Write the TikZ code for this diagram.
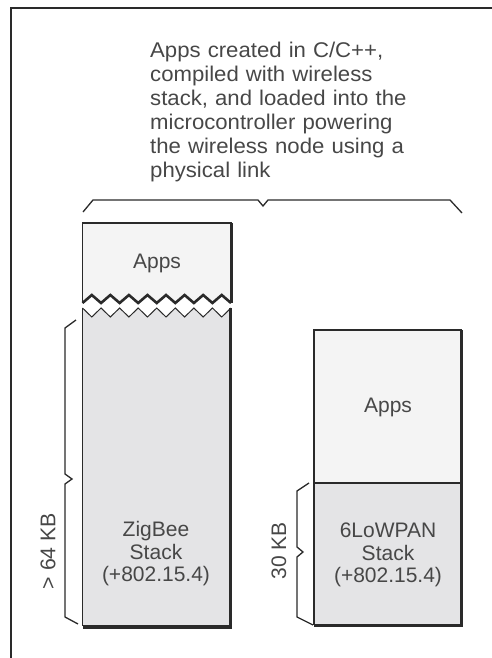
\documentclass[tikz,border=0pt]{standalone}
\usepackage{fontspec}
\setmainfont{Liberation Sans}
\newfontfamily\widesans[FakeStretch=1.04]{Liberation Sans}
\definecolor{lineC}{HTML}{2A2A2A}
\definecolor{textC}{HTML}{474747}
\definecolor{appsF}{HTML}{F4F4F4}
\definecolor{stackF}{HTML}{E4E4E6}
\tikzset{
  frameline/.style={draw=lineC, line width=1.4pt},
  boxline/.style={draw=lineC, line width=1.3pt},
  shadowline/.style={draw=lineC, line width=3.6pt},
  braceline/.style={draw=lineC, line width=1.3pt, line join=miter},
  label/.style={text=textC, inner sep=0pt, font=\fontsize{21}{22.5}\selectfont, align=center},
}
\begin{document}
\begin{tikzpicture}[x=1pt,y=-1pt]
\useasboundingbox (0,0) rectangle (492,658);
% frame (top and left edges)
\draw[frameline] (492,8) -- (11,8) -- (11,658);

% top text
\node[label, anchor=north west, align=left, text width=320pt,
      font=\widesans\fontsize{21.3}{24}\selectfont] (desc) at (150,42)
  {Apps created in C/C++,\\compiled with wireless\\stack, and loaded into the\\microcontroller powering\\the wireless node using a\\physical link};

% top brace
\draw[braceline] (83,212) -- (93,200) -- (258,200) -- (263,206) -- (268,200) -- (450,200) -- (462,213);

% ---- left column ----
% lower (stack) box with zigzag top
\fill[stackF] (82.5,308) \foreach \i in {0,...,7} { -- ({82.5+(\i+0.5)*18.5625},317) -- ({82.5+(\i+1)*18.5625},308) } -- (230,626) -- (82.5,626) -- cycle;
\draw[boxline, line width=1pt] (82.5,308) \foreach \i in {0,...,7} { -- ({82.5+(\i+0.5)*18.5625},317) -- ({82.5+(\i+1)*18.5625},308) };
\draw[boxline] (82.5,308) -- (82.5,626);
\draw[shadowline] (230.5,308) -- (230.5,627) -- (82.5,627);

% apps box with zigzag bottom
\fill[appsF] (82.5,223) -- (231,223) -- (231,303) \foreach \i in {7,...,0} { -- ({82.5+(\i+0.5)*18.5625},295) -- ({82.5+\i*18.5625},303) } -- cycle;
\draw[boxline] (231,303) -- (231,223) -- (82.5,223) -- (82.5,303);
\draw[draw=lineC, line width=2.6pt, line join=miter] (82.5,303) \foreach \i in {0,...,7} { -- ({82.5+(\i+0.5)*18.5625},295) -- ({82.5+(\i+1)*18.5625},303) };
\draw[draw=lineC, line width=3pt] (231,223) -- (231,303);

\node[label] (appsL) at (157,263) {Apps};
\node[label] (zigbee) at (156,554) {ZigBee\\Stack\\(+802.15.4)};

% left brace
\draw[braceline] (76,320) -- (65,328) -- (65,474) -- (72,479) -- (65,484) -- (65,617) -- (78,624);
\node[label, rotate=90, font=\fontsize{21.3}{22}\selectfont] (kb64) at (48,551) {> 64 KB};

% ---- right column ----
\filldraw[fill=appsF, boxline] (314,330) rectangle (461.5,483);
\filldraw[fill=stackF, boxline] (314,483) rectangle (461.5,624.5);
\draw[draw=lineC, line width=2.4pt] (461.5,330) -- (461.5,625.5);
\draw[shadowline, line width=3pt] (462.5,625.5) -- (314,625.5);

\node[label] (appsR) at (388,407) {Apps};
\node[label] (lowpan) at (388,555) {6LoWPAN\\Stack\\(+802.15.4)};

% right brace
\draw[braceline] (309,483) -- (297,491) -- (297,547) -- (303,552) -- (297,557) -- (297,617) -- (313,625);
\node[label, rotate=90, font=\fontsize{21}{22}\selectfont] (kb30) at (279,551) {30 KB};
\end{tikzpicture}
\end{document}
